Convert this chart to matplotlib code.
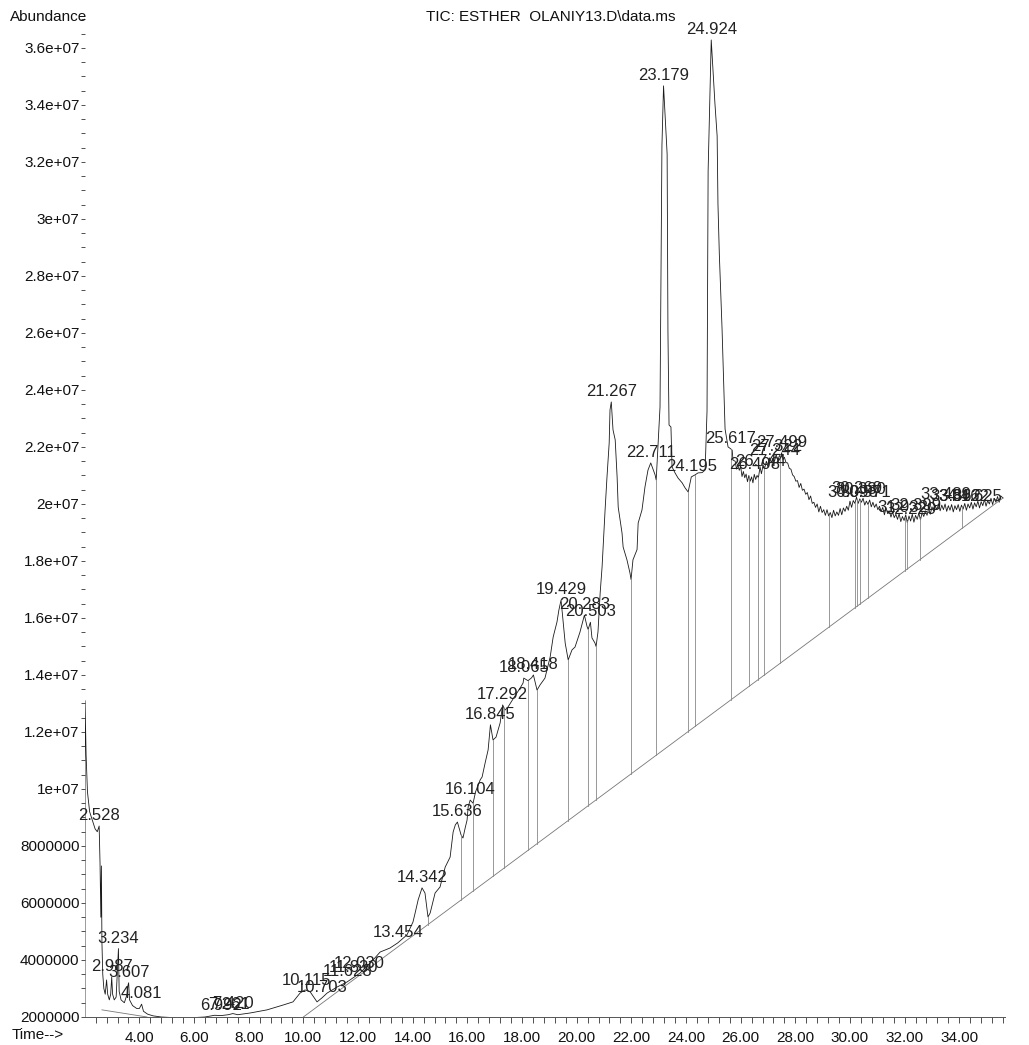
import matplotlib.pyplot as plt
import numpy as np
from matplotlib.ticker import FuncFormatter, MultipleLocator

plt.rcParams['font.family'] = ['Liberation Sans', 'DejaVu Sans']

# TIC trace up to 25.7 min: retention time (min) and abundance (millions of counts)
rt = [2.010, 2.012, 2.05, 2.10, 2.18, 2.28, 2.38, 2.46, 2.528, 2.56, 2.59, 2.61, 2.63, 2.66,
      2.70, 2.75, 2.80, 2.84, 2.90, 2.95, 2.987, 3.02, 3.08, 3.15, 3.20, 3.234, 3.26, 3.33,
      3.45, 3.55, 3.58, 3.607, 3.64, 3.75, 3.90, 4.00, 4.081, 4.15, 4.30, 4.50, 4.80, 5.20,
      5.60, 6.00, 6.40, 6.75, 7.00, 7.25, 7.42, 7.60, 8.05, 8.67, 9.26, 9.62, 9.88, 10.06,
      10.25, 10.50, 10.68, 10.87, 11.23, 11.60, 12.07, 12.55, 12.81, 13.17, 13.454, 13.79,
      14.01, 14.09, 14.20, 14.342, 14.45, 14.56, 14.64, 14.82, 15.00, 15.19, 15.37, 15.48,
      15.56, 15.636, 15.77, 15.84, 15.92, 15.99, 16.03, 16.104, 16.21, 16.30, 16.47, 16.54,
      16.65, 16.76, 16.83, 16.845, 16.94, 17.05, 17.20, 17.292, 17.38, 17.49, 17.70, 17.93,
      18.04, 18.065, 18.22, 18.35, 18.418, 18.55, 18.66, 18.84, 19.03, 19.14, 19.28, 19.35,
      19.429, 19.58, 19.69, 19.83, 19.94, 20.12, 20.283, 20.38, 20.42, 20.503, 20.56, 20.67,
      20.71, 20.78, 20.86, 20.93, 21.04, 21.11, 21.19, 21.22, 21.267, 21.33, 21.41, 21.48,
      21.52, 21.66, 21.70, 21.84, 21.95, 21.99, 22.06, 22.21, 22.25, 22.39, 22.50, 22.61,
      22.711, 22.87, 22.91, 23.05, 23.12, 23.179, 23.31, 23.34, 23.38, 23.45, 23.49, 23.60,
      23.71, 23.86, 23.97, 24.08, 24.195, 24.33, 24.44, 24.59, 24.70, 24.77, 24.81, 24.924,
      25.06, 25.14, 25.17, 25.22, 25.32, 25.39, 25.43, 25.54, 25.617, 25.69, 25.72]
abund = [2.0, 13.1, 11.2, 9.9, 9.2, 8.9, 8.6, 8.5, 8.7, 7.4, 5.5, 7.3, 4.6, 3.5,
         3.0, 2.8, 3.3, 2.8, 2.6, 2.8, 3.4, 2.8, 2.6, 2.7, 3.7, 4.4, 2.9, 2.6,
         2.5, 2.8, 3.1, 3.2, 2.6, 2.4, 2.3, 2.3, 2.45, 2.2, 2.1, 2.04, 2.0, 1.98,
         1.97, 1.98, 2.0, 2.06, 2.05, 2.08, 2.12, 2.08, 2.14, 2.25, 2.42, 2.53, 2.84, 2.95,
         2.88, 2.53, 2.67, 2.84, 3.05, 3.23, 3.54, 4.00, 4.28, 4.42, 4.60, 4.88,
         5.33, 5.65, 6.11, 6.53, 6.35, 5.51, 5.65, 6.35, 6.56, 7.26, 7.61, 8.49,
         8.74, 8.84, 8.39, 8.28, 8.63, 8.91, 9.37, 9.61, 9.50, 9.90, 10.32, 10.42,
         10.91, 11.37, 12.07, 12.25, 11.72, 11.82, 12.32, 12.95, 12.77, 12.88, 13.20, 13.54,
         13.72, 13.89, 13.80, 13.90, 14.00, 13.47, 13.65, 13.89, 14.63, 15.33, 15.86, 16.28,
         16.63, 15.12, 14.53, 14.88, 14.98, 15.50, 16.10, 15.70, 15.60, 15.85, 15.30, 15.12,
         15.00, 15.51, 16.88, 17.79, 19.79, 20.95, 22.14, 23.30, 23.58, 22.60, 22.25, 20.95,
         19.89, 18.98, 18.49, 18.04, 17.58, 17.35, 18.04, 18.40, 19.33, 19.79, 20.60, 21.19,
         21.44, 21.02, 20.84, 23.40, 32.56, 34.67, 32.28, 26.04, 22.77, 22.70, 21.30, 21.09,
         20.91, 20.74, 20.56, 20.42, 20.95, 21.02, 21.09, 21.10, 21.19, 23.26, 31.68, 36.28,
         34.04, 32.91, 30.53, 28.77, 26.14, 23.89, 22.63, 22.00, 21.95, 21.89, 21.54]

# noisy tail of the run, 25.8 min to the end
rt_tail = [25.80, 25.85, 25.90, 25.95, 26.00, 26.05, 26.10, 26.15, 26.20, 26.25,
           26.30, 26.35, 26.40, 26.45, 26.498, 26.55, 26.60, 26.65, 26.71, 26.76,
           26.82, 26.88, 26.94, 27.00, 27.06, 27.12, 27.18, 27.24, 27.30, 27.36,
           27.42, 27.47, 27.499, 27.55, 27.60, 27.66, 27.72, 27.78, 27.84, 27.90,
           27.96, 28.02, 28.08, 28.14, 28.20, 28.26, 28.32, 28.38, 28.44, 28.50,
           28.56, 28.62, 28.68, 28.74, 28.80, 28.86, 28.92, 28.98, 29.04, 29.10,
           29.16, 29.22, 29.28, 29.34, 29.40, 29.46, 29.52, 29.58, 29.64, 29.70,
           29.76, 29.82, 29.88, 29.94, 30.00, 30.06, 30.12, 30.18, 30.24, 30.30,
           30.36, 30.42, 30.48, 30.54, 30.60, 30.66, 30.72, 30.78, 30.84, 30.90,
           30.96, 31.02, 31.08, 31.14, 31.20, 31.26, 31.32, 31.38, 31.44, 31.50,
           31.56, 31.62, 31.68, 31.74, 31.80, 31.86, 31.92, 31.98, 32.04, 32.10,
           32.16, 32.22, 32.28, 32.34, 32.40, 32.46, 32.52, 32.58, 32.64, 32.70,
           32.76, 32.82, 32.88, 32.94, 33.00, 33.06, 33.12, 33.18, 33.24, 33.30,
           33.36, 33.42, 33.48, 33.54, 33.60, 33.66, 33.72, 33.78, 33.84, 33.90,
           33.96, 34.02, 34.08, 34.14, 34.20, 34.26, 34.32, 34.38, 34.44, 34.50,
           34.56, 34.62, 34.68, 34.74, 34.80, 34.86, 34.92, 34.98, 35.04, 35.10,
           35.16, 35.22, 35.28, 35.34, 35.40, 35.46, 35.52, 35.60]
abund_tail = [21.50, 21.22, 21.38, 21.18, 21.32, 20.96, 21.14, 20.92, 21.05, 20.78,
              21.00, 20.80, 20.95, 20.74, 21.04, 20.86, 21.00, 20.92, 21.30, 21.06,
              21.36, 21.26, 21.50, 21.30, 21.62, 21.46, 21.58, 21.50, 21.74, 21.52,
              21.70, 21.64, 21.80, 21.56, 21.64, 21.45, 21.44, 21.25, 21.22, 21.02,
              20.96, 20.80, 20.82, 20.58, 20.72, 20.48, 20.52, 20.34, 20.40, 20.15,
              20.28, 20.02, 20.06, 19.88, 20.00, 19.72, 19.92, 19.70, 19.80, 19.60,
              19.80, 19.58, 19.70, 19.52, 19.78, 19.58, 19.72, 19.60, 19.84, 19.62,
              19.86, 19.74, 19.92, 19.78, 20.10, 19.88, 20.12, 20.02, 20.24, 20.02,
              20.18, 20.06, 20.20, 19.96, 20.10, 19.98, 20.14, 19.90, 20.06, 19.88,
              20.00, 19.80, 19.92, 19.74, 19.88, 19.62, 19.86, 19.66, 19.76, 19.54,
              19.72, 19.52, 19.64, 19.46, 19.66, 19.38, 19.56, 19.42, 19.62, 19.34,
              19.58, 19.40, 19.64, 19.36, 19.60, 19.46, 19.68, 19.44, 19.70, 19.56,
              19.76, 19.60, 19.86, 19.64, 19.90, 19.76, 19.94, 19.80, 20.00, 19.76,
              19.96, 19.80, 20.00, 19.74, 19.94, 19.78, 19.98, 19.72, 19.94, 19.80,
              19.98, 19.74, 19.96, 19.82, 20.02, 19.78, 20.00, 19.86, 20.06, 19.82,
              20.04, 19.90, 20.10, 19.86, 20.08, 19.94, 20.16, 19.92, 20.12, 20.00,
              20.20, 19.98, 20.20, 20.06, 20.26, 20.06, 20.28, 20.21]

# integration baselines (segments split by nan)
base_rt = [2.63, 4.28, np.nan, 10.0, 35.6]
base_ab = [2.25, 2.0, np.nan, 2.0, 20.21]

# peak boundary drop lines
drop_rt = [14.56, 15.77, 16.21, 16.94, 17.34, 18.22, 18.55, 19.69, 20.42, 20.71, 21.99,
           22.91, 24.08, 24.33, 25.65, 26.31, 26.64, 26.86, 27.44, 29.24, 30.19, 30.26,
           30.37, 30.66, 32.02, 32.09, 32.56, 34.10]

# labelled peaks
peak_rt = [2.528, 2.987, 3.234, 3.607, 4.081, 6.992, 7.261, 7.420, 10.115, 10.703,
           11.628, 11.830, 12.030, 13.454, 14.342, 15.636, 16.104, 16.845, 17.292, 18.065,
           18.418, 19.429, 20.283, 20.503, 21.267, 22.711, 23.179, 24.195, 24.924, 25.617,
           26.498, 26.744, 27.244, 27.322, 27.499, 30.098, 30.260, 30.380, 30.571,
           31.932, 32.229, 32.399, 33.489, 33.862, 34.162, 34.625]
peak_lbl = ['%.3f' % t for t in peak_rt]

rt = np.concatenate([rt, rt_tail])
abund = np.concatenate([abund, abund_tail]) * 1e6
base_rt = np.array(base_rt)
base_ab = np.array(base_ab) * 1e6

fig = plt.figure(figsize=(10.29, 10.45), dpi=100)
ax = fig.add_axes([0.0826, 0.0268, 0.894, 0.9655])

ax.plot(rt, abund, color='#1a1a1a', lw=0.6)
ax.plot(base_rt, base_ab, color='#777777', lw=0.6)

# drop lines from the trace down to the main baseline
for t in drop_rt:
    top = np.interp(t, rt, abund)
    bot = np.interp(t, base_rt[3:], base_ab[3:])
    ax.plot([t, t], [bot, top], color='#888888', lw=0.6)

for t, s in zip(peak_rt, peak_lbl):
    v = np.interp(t, rt, abund)
    ax.annotate(s, (t, v), xytext=(0, 2), textcoords='offset points',
                ha='center', va='bottom', fontsize=12, color='#222222')

ax.set_xlim(2.01, 35.67)
ax.set_ylim(2e6, 3.74e7)

ax.xaxis.set_major_locator(MultipleLocator(2))
ax.xaxis.set_minor_locator(MultipleLocator(0.4))
ax.yaxis.set_major_locator(MultipleLocator(2e6))
ax.yaxis.set_minor_locator(MultipleLocator(5e5))
ax.xaxis.set_major_formatter(FuncFormatter(lambda v, p: '%.2f' % v if v >= 3 else ''))


def yfmt(v, pos):
    if v >= 1e7:
        return '%ge+07' % (v / 1e7)
    return '%d' % v


ax.yaxis.set_major_formatter(FuncFormatter(yfmt))
ax.tick_params(axis='both', which='both', labelsize=11, colors='#333333', labelcolor='#111111',
               direction='out', width=0.6)
ax.tick_params(axis='x', which='major', length=4, pad=6)
ax.tick_params(axis='x', which='minor', length=4)
ax.tick_params(axis='y', which='major', length=3, pad=1)
ax.tick_params(axis='y', which='minor', length=3)

for side in ['top', 'right', 'left']:
    ax.spines[side].set_visible(False)
ax.spines['bottom'].set_color('#555555')
ax.spines['bottom'].set_linewidth(0.7)

fig.text(0.0097, 0.984, 'Abundance', fontsize=11, color='#111111', va='center')
fig.text(0.535, 0.984, 'TIC: ESTHER  OLANIY13.D\\data.ms', fontsize=11, color='#111111',
         ha='center', va='center')
fig.text(0.0117, 0.0096, 'Time-->', fontsize=11, color='#111111', va='center')

fig.savefig('out.png', dpi=100, facecolor='white')
